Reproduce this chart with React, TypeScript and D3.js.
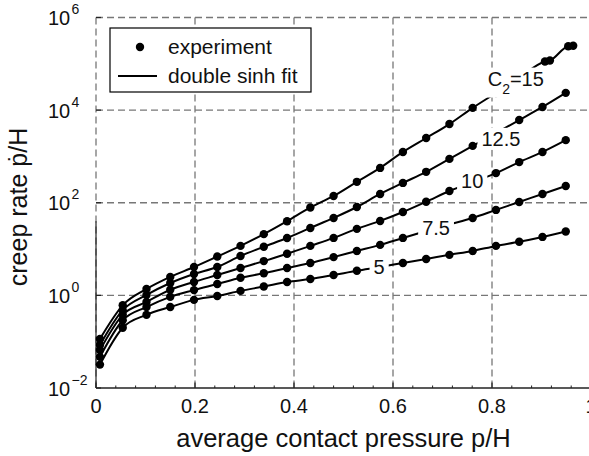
import React from "react";
import * as d3 from "d3";

// ---------- data ----------
const pressure = [0.008, 0.054, 0.102, 0.15, 0.198, 0.245, 0.292, 0.339, 0.386, 0.433, 0.48, 0.527, 0.574, 0.62, 0.667, 0.714, 0.761, 0.808, 0.855, 0.902, 0.949];
const pressureC15 = [0.008, 0.054, 0.102, 0.15, 0.198, 0.245, 0.292, 0.339, 0.386, 0.433, 0.48, 0.527, 0.574, 0.62, 0.667, 0.714, 0.761, 0.808, 0.855, 0.907, 0.917, 0.954, 0.964];

const rateC15 = [0.115, 0.61, 1.37, 2.5, 4.1, 6.9, 11.7, 21, 40, 79, 140, 283, 565, 1250, 2500, 5000, 11200, 23500, 50000, 112000, 118000, 240000, 245000];
const rateC125 = [0.085, 0.48, 1.02, 1.85, 2.9, 4.1, 7.1, 11.2, 17.3, 28.6, 47, 81, 155, 268, 465, 885, 1690, 3200, 6100, 11700, 23600];
const rateC10 = [0.066, 0.38, 0.72, 1.32, 1.95, 2.75, 3.9, 5.5, 7.9, 11.7, 17.4, 27.3, 40.5, 63, 105, 179, 282, 437, 755, 1250, 2250];
const rateC75 = [0.047, 0.29, 0.56, 0.93, 1.3, 1.76, 2.4, 3.0, 3.9, 5.0, 6.7, 9.1, 12.3, 17.4, 24.5, 34, 47, 70, 104, 155, 230];
const rateC5 = [0.032, 0.2, 0.38, 0.56, 0.8, 0.97, 1.25, 1.55, 1.95, 2.25, 2.75, 3.4, 4.1, 5.0, 6.1, 7.5, 9.1, 11.7, 14.4, 18.3, 24];

const labelMain = ["C", "12.5", "10", "7.5", "5"];
const labelSub = ["2", "", "", "", ""];
const labelTail = ["=15", "", "", "", ""];
const labelAtP = [0.848, 0.818, 0.76, 0.687, 0.572];
const labelAtRate = [48000, 2400, 288, 28.6, 4.0];

const xTicks = [0, 0.2, 0.4, 0.6, 0.8, 1];
const xTickLabels = ["0", "0.2", "0.4", "0.6", "0.8", "1"];
const yTicks = [1e-2, 1, 1e2, 1e4, 1e6];
const yTickExp = ["\u22122", "0", "2", "4", "6"];

const legendLabels = ["experiment", "double sinh fit"];
const xTitle = "average contact pressure p/H";
const yTitle = "creep rate \u1E57/H";

// ---------- layout ----------
const W = 589;
const H = 456;
const FONT = '"Liberation Sans", Arial, Helvetica, sans-serif';

const x = d3.scaleLinear().domain([0, 1]).range([96, 591]);
const y = d3.scaleLog().domain([1e-2, 1e6]).range([388, 17.5]);

const series = [
  { xs: pressureC15, ys: rateC15 },
  { xs: pressure, ys: rateC125 },
  { xs: pressure, ys: rateC10 },
  { xs: pressure, ys: rateC75 },
  { xs: pressure, ys: rateC5 },
];

let ctx: CanvasRenderingContext2D | null = null;
function tw(s: string, size: number) {
  if (!s) return 0;
  if (!ctx) ctx = document.createElement("canvas").getContext("2d");
  if (!ctx) return s.length * size * 0.55;
  ctx.font = `${size}px "Liberation Sans"`;
  return ctx.measureText(s).width;
}

export default function App() {
  const line = d3
    .line<[number, number]>()
    .x((d) => x(d[0]))
    .y((d) => y(d[1]))
    .curve(d3.curveMonotoneX);

  const minorTicks = d3.range(0, 1.0001, 0.04).filter((v) => Math.abs(v / 0.2 - Math.round(v / 0.2)) > 1e-6);
  const gridColor = "#777";
  const dash = "7,4";
  const x0 = x(0);
  const yb = y(1e-2);

  return (
    <svg width={W} height={H} style={{ position: "absolute", left: 0, top: 0, background: "#fff" }} fontFamily={FONT}>
      <rect width={W} height={H} fill="#fff" />
      {/* grid */}
      {xTicks.slice(1, 5).map((t) => (
        <line key={"gx" + t} x1={x(t)} x2={x(t)} y1={y(1e6)} y2={yb} stroke={gridColor} strokeWidth={1.3} strokeDasharray={dash} />
      ))}
      {yTicks.slice(1).map((t) => (
        <line key={"gy" + t} x1={x0} x2={W} y1={y(t)} y2={y(t)} stroke={gridColor} strokeWidth={1.3} strokeDasharray={dash} />
      ))}
      {/* left axis */}
      <line x1={x0} x2={x0} y1={y(1e6)} y2={yb} stroke={gridColor} strokeWidth={1.3} strokeDasharray={dash} />
      <line x1={x0} x2={x0} y1={y(40)} y2={yb} stroke="#222" strokeWidth={1.2} />
      {yTicks.map((t) => (
        <line key={"yt" + t} x1={x0} x2={x0 + 5} y1={y(t)} y2={y(t)} stroke="#222" strokeWidth={1.2} />
      ))}
      {/* bottom axis */}
      <line x1={x0} x2={W + 5} y1={yb} y2={yb} stroke="#222" strokeWidth={1.3} />
      {xTicks.map((t) => (
        <line key={"xt" + t} x1={x(t)} x2={x(t)} y1={yb} y2={yb - 5.5} stroke="#222" strokeWidth={1.2} />
      ))}
      {minorTicks.map((t) => (
        <line key={"xm" + t} x1={x(t)} x2={x(t)} y1={yb} y2={yb - 2.5} stroke="#222" strokeWidth={1} />
      ))}
      {/* tick labels */}
      {xTicks.map((t, i) => (
        <text key={"xl" + t} x={x(t)} y={yb + 25} fontSize={20} textAnchor="middle" fill="#111">
          {xTickLabels[i]}
        </text>
      ))}
      {yTicks.map((t, i) => (
        <g key={"yl" + t} fill="#111">
          <text x={48} y={y(t) + 7.5} fontSize={20}>10</text>
          <text x={71.5} y={y(t) - 3.5} fontSize={14}>{yTickExp[i]}</text>
        </g>
      ))}
      {/* axis titles */}
      <text x={(x(0) + x(1)) / 2} y={447} fontSize={25.5} textAnchor="middle" fill="#111">{xTitle}</text>
      <text transform={`translate(27,207) rotate(-90)`} fontSize={25} textAnchor="middle" fill="#111">{yTitle}</text>

      {/* curves */}
      {series.map((s, i) => {
        const pts: [number, number][] = s.xs.map((v, j) => [v, s.ys[j]]);
        return (
          <g key={"s" + i}>
            <path d={line(pts) || ""} fill="none" stroke="#000" strokeWidth={2} />
            {pts.map((p, j) => (
              <circle key={j} cx={x(p[0])} cy={y(p[1])} r={4.2} fill="#000" />
            ))}
          </g>
        );
      })}

      {/* inline curve labels */}
      {labelMain.map((m, i) => {
        const wMain = tw(m, 20);
        const wSub = tw(labelSub[i], 14);
        const wTail = tw(labelTail[i], 20);
        const w = wMain + wSub + wTail;
        const cx = x(labelAtP[i]);
        const cy = y(labelAtRate[i]);
        const hasSub = labelSub[i] !== "";
        return (
          <g key={"lab" + i}>
            <rect x={cx - w / 2 - 4} y={cy - 11} width={w + 8} height={hasSub ? 30 : 22} fill="#fff" />
            <text x={cx - w / 2} y={cy + 7} fontSize={20} fill="#111">
              {m}
              {hasSub && (
                <tspan fontSize={14} dy={8}>{labelSub[i]}</tspan>
              )}
              {labelTail[i] && (
                <tspan dy={hasSub ? -8 : 0}>{labelTail[i]}</tspan>
              )}
            </text>
          </g>
        );
      })}

      {/* legend */}
      <rect x={110} y={28} width={201} height={64} fill="#fff" stroke="#000" strokeWidth={1.2} />
      <circle cx={140} cy={47} r={4.2} fill="#000" />
      <text x={168} y={54} fontSize={21} fill="#111">{legendLabels[0]}</text>
      <line x1={118} x2={157} y1={76} y2={76} stroke="#000" strokeWidth={2} />
      <text x={168} y={83} fontSize={21} fill="#111">{legendLabels[1]}</text>
    </svg>
  );
}
